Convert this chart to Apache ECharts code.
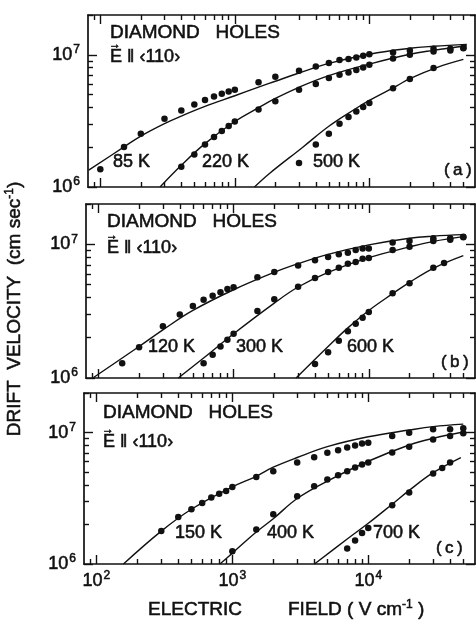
<!DOCTYPE html>
<html>
<head>
<meta charset="utf-8">
<script src="https://cdn.jsdelivr.net/npm/echarts@6/dist/echarts.min.js"></script>
<style>html,body{margin:0;padding:0;background:#fff}#chart{width:476px;height:621px}</style>
</head>
<body>
<div id="chart"></div>
<script>
// ---------- DATA (field in V/cm, drift velocity in cm/s) ----------
// Panel (a)
const E85  = [100,150,200,300,400,500,600,700,800,900,1000,1500,2000,3000,4000,5000,6000,7000,8000,9000,10000,15000,20000,30000,40000,50000];
const V85  = [1.36e6,2.01e6,2.53e6,3.28e6,3.79e6,4.21e6,4.56e6,4.83e6,5.07e6,5.27e6,5.43e6,6.19e6,6.83e6,7.58e6,8.17e6,8.66e6,9.12e6,9.28e6,9.54e6,9.83e6,1.01e7,1.04e7,1.08e7,1.11e7,1.11e7,1.13e7];
const fitE85 = [82,150,200,300,400,600,1000,1500,2000,3000,5000,10000,20000,30000,53000];
const fitV85 = [1.34e6,2.01e6,2.43e6,3.02e6,3.44e6,4.07e6,4.90e6,5.69e6,6.31e6,7.28e6,8.61e6,1.01e7,1.12e7,1.16e7,1.2e7];
const E220 = [400,500,600,700,800,900,1000,1500,2000,3000,4000,5000,6000,7000,8000,9000,10000,15000,20000,30000,40000,50000];
const V220 = [1.42e6,1.76e6,2.10e6,2.39e6,2.65e6,2.89e6,3.13e6,3.86e6,4.46e6,5.43e6,6.02e6,6.68e6,7.07e6,7.36e6,7.67e6,8.03e6,8.41e6,9.38e6,1.0e7,1.06e7,1.08e7,1.12e7];
const fitE220 = [278,400,600,1000,1500,2000,3000,5000,10000,20000,30000,53000];
const fitV220 = [1e6,1.46e6,2.13e6,3.13e6,3.98e6,4.68e6,5.68e6,6.95e6,8.51e6,1.01e7,1.08e7,1.17e7];
const E500 = [3000,4000,5000,6000,7000,8000,9000,10000,15000,20000,30000];
const V500 = [1.52e6,2.10e6,2.53e6,3.01e6,3.38e6,3.73e6,4.02e6,4.31e6,5.58e6,6.57e6,7.94e6];
const fitE500 = [1400,1800,3200,5000,8000,10000,16000,20000,32000,50000];
const fitV500 = [1e6,1.26e6,2.0e6,2.88e6,3.94e6,4.52e6,5.82e6,6.61e6,8.04e6,9.23e6];
// Panel (b)
const E120 = [150,200,300,400,500,600,700,800,900,1000,1500,2000,3000,4000,5000,6000,7000,8000,9000,10000,15000,20000,30000,40000,50000];
const V120 = [1.29e6,1.70e6,2.44e6,2.99e6,3.46e6,3.85e6,4.12e6,4.37e6,4.62e6,4.77e6,5.67e6,6.19e6,6.95e6,7.58e6,8.04e6,8.43e6,8.63e6,9.04e6,9.30e6,9.30e6,1.03e7,1.06e7,1.11e7,1.11e7,1.14e7];
const fitE120 = [91,200,300,500,1000,2000,3000,5000,10000,20000,30000,50000];
const fitV120 = [1e6,1.72e6,2.29e6,3.2e6,4.57e6,6.17e6,7.16e6,8.41e6,9.89e6,1.11e7,1.15e7,1.18e7];
const E300 = [600,700,800,900,1000,1500,2000,3000,4000,5000,6000,7000,8000,9000,10000,15000,20000,30000,40000,50000];
const V300 = [1.29e6,1.49e6,1.72e6,1.93e6,2.14e6,3.17e6,3.88e6,4.82e6,5.60e6,6.19e6,6.67e6,7.16e6,7.37e6,7.80e6,7.90e6,9.04e6,9.57e6,1.06e7,1.08e7,1.13e7];
const fitE300 = [390,600,1000,2000,3000,5000,10000,20000,30000,50000];
const fitV300 = [1e6,1.41e6,2.14e6,3.63e6,4.79e6,6.17e6,7.94e6,9.55e6,1.05e7,1.14e7];
const E600 = [4000,5000,6000,7000,8000,9000,10000,15000,20000,30000,36000];
const V600 = [1.27e6,1.56e6,1.90e6,2.24e6,2.54e6,2.82e6,3.12e6,4.30e6,5.10e6,6.67e6,7.24e6];
const fitE600 = [2900,5000,7000,10000,15000,20000,30000,50000];
const fitV600 = [1e6,1.72e6,2.37e6,3.2e6,4.27e6,5.19e6,6.61e6,8.22e6];
// Panel (c)
const E150 = [300,400,500,600,700,800,900,1000,1500,2000,3000,4000,5000,6000,7000,8000,9000,10000,15000,20000,30000,40000,50000];
const V150 = [1.78e6,2.28e6,2.61e6,2.91e6,3.20e6,3.43e6,3.59e6,3.86e6,4.60e6,5.08e6,5.93e6,6.50e6,7.01e6,7.35e6,7.71e6,7.98e6,8.27e6,8.36e6,9.40e6,9.96e6,1.06e7,1.06e7,1.08e7];
const fitE150 = [158,300,500,1000,1500,2000,3000,5000,10000,20000,30000,50000];
const fitV150 = [1e6,1.78e6,2.61e6,3.86e6,4.65e6,5.45e6,6.46e6,7.82e6,9.29e6,1.045e7,1.11e7,1.16e7];
const E400 = [1000,1500,2000,3000,4000,5000,6000,7000,8000,9000,10000,15000,20000,30000,40000,50000];
const V400 = [1.25e6,1.83e6,2.39e6,3.27e6,3.90e6,4.39e6,4.74e6,5.08e6,5.42e6,5.71e6,5.93e6,7.06e6,7.80e6,8.87e6,9.40e6,9.86e6];
const fitE400 = [810,1000,1500,2000,3000,5000,10000,20000,30000,50000];
const fitV400 = [1e6,1.21e6,1.75e6,2.21e6,3.15e6,4.27e6,6.05e6,8.04e6,9.04e6,1.01e7];
const E700 = [7000,8000,9000,10000,15000,20000,30000,35000,40000];
const V700 = [1.31e6,1.51e6,1.72e6,1.88e6,2.80e6,3.50e6,4.88e6,5.38e6,5.93e6];
const fitE700 = [4020,7000,10000,15000,20000,30000,48000];
const fitV700 = [1e6,1.55e6,2.04e6,2.85e6,3.63e6,4.95e6,6.46e6];

// Labels and ticks
const tempLabels = [['85 K','220 K','500 K'],['120 K','300 K','600 K'],['150 K','400 K','700 K']];
const panelTags = ['(\u2009a\u2009)','(\u2009b\u2009)','(\u2009c\u2009)'];
const xMajorTicks = [100,1000,10000];
const xMinorTicks = [90,200,300,400,500,600,700,800,900,2000,3000,4000,5000,6000,7000,8000,9000,20000,30000,40000,50000];
const yMajorTicks = [1e6,1e7];
const yMinorTicks = [2e6,3e6,4e6,5e6,6e6,7e6,8e6,9e6,2e7];
const xRange = [81, 61000];
const yRange = [1e6, 2e7];

const panelSeries = [
  [[E85,V85,fitE85,fitV85],[E220,V220,fitE220,fitV220],[E500,V500,fitE500,fitV500]],
  [[E120,V120,fitE120,fitV120],[E300,V300,fitE300,fitV300],[E600,V600,fitE600,fitV600]],
  [[E150,V150,fitE150,fitV150],[E400,V400,fitE400,fitV400],[E700,V700,fitE700,fitV700]]
];

// ---------- LAYOUT ----------
const FONT = "'Liberation Sans', Arial, Helvetica, sans-serif";
const INK = '#111';
const THICK = 0.55;
const layout = [
  {grid:{left:88,top:15,width:387,height:172}, title:[110,33], vec:[110,57], temps:[[113,162],[202,162],[313,162]], tag:[444,170]},
  {grid:{left:86,top:204,width:389,height:174}, title:[107,222], vec:[107,248], temps:[[148,347],[236,347],[347,347]], tag:[441,362]},
  {grid:{left:84,top:393,width:391,height:171}, title:[103,413], vec:[103,442], temps:[[175,533],[267,533],[373,533]], tag:[436,548]}
];

const L = Math.log10;
const pts = (E, V) => E.map((e, i) => [L(e), L(V[i])]);
// axis-label rich styles (ECharts option keys)
const axTok = (size, extra) => Object.assign({fontSize: size, fontFamily: FONT, color: INK,
  textBorderColor: INK, textBorderWidth: THICK}, extra || {});
const supRich = { b: axTok(18), s: axTok(12, {padding: [0, 0, 10, 1]}) };
const powLabel = v => '{b|10}{s|' + Math.round(v) + '}';
// graphic rich styles (raw zrender keys, legacy: false)
const gTok = (size, extra) => Object.assign({fontSize: size, fontFamily: FONT, fill: INK,
  stroke: INK, lineWidth: THICK}, extra || {});

const grids = [], xAxes = [], yAxes = [], series = [], graphics = [];

const gText = (x, y, style, rotation, align) => ({
  type: 'text', x: x, y: y, rotation: rotation || 0, silent: true,
  style: Object.assign({legacy: false, fontFamily: FONT, fill: INK, stroke: INK, lineWidth: THICK,
    align: align || 'left', verticalAlign: 'middle'}, style)
});

layout.forEach((p, i) => {
  grids.push(p.grid);
  const mainX = xAxes.length, mainY = yAxes.length;
  const mk = (pos, major, isX) => {
    const ticks = isX ? (major ? xMajorTicks : xMinorTicks) : (major ? yMajorTicks : yMinorTicks);
    const range = isX ? xRange : yRange;
    const showLabel = major && ((isX && pos === 'bottom' && i === 2) || (!isX && pos === 'left'));
    return {
      type: 'value', gridIndex: i, position: pos,
      min: L(range[0]), max: L(range[1]),
      axisLine: {show: major, onZero: false, lineStyle: {color: INK, width: 1.7}},
      axisTick: {show: true, inside: true, length: major ? 9 : 5, customValues: ticks.map(L), lineStyle: {color: INK, width: 1.4}},
      axisLabel: {show: showLabel, customValues: (isX ? xMajorTicks : yMajorTicks).map(L), formatter: powLabel, rich: supRich, margin: isX ? 6 : 8},
      splitLine: {show: false}
    };
  };
  xAxes.push(mk('bottom', true, true), mk('bottom', false, true), mk('top', true, true), mk('top', false, true));
  yAxes.push(mk('left', true, false), mk('left', false, false), mk('right', true, false), mk('right', false, false));

  panelSeries[i].forEach(([E, V, fE, fV]) => {
    series.push({
      type: 'line', xAxisIndex: mainX, yAxisIndex: mainY, data: pts(fE, fV),
      smooth: 0.4, showSymbol: false, clip: true,
      lineStyle: {color: INK, width: 1.4}, silent: true
    });
    series.push({
      type: 'scatter', xAxisIndex: mainX, yAxisIndex: mainY, data: pts(E, V),
      symbol: 'circle', symbolSize: 6.5, itemStyle: {color: INK, opacity: 1}, silent: true
    });
  });

  graphics.push(gText(p.title[0], p.title[1], {text: 'DIAMOND   HOLES', fontSize: 19}));
  graphics.push(gText(p.vec[0], p.vec[1], {text: 'E ‖ ‹110›', fontSize: 18}));
  graphics.push(gText(p.vec[0] - 1, p.vec[1] - 12, {text: '→', fontSize: 12}));
  p.temps.forEach((t, k) => graphics.push(gText(t[0], t[1], {text: tempLabels[i][k], fontSize: 18})));
  graphics.push(gText(p.tag[0], p.tag[1], {text: panelTags[i], fontSize: 17}));
});

const titleRich = { t: gTok(19), s: gTok(12, {padding: [0, 0, 10, 0]}) };
graphics.push(gText(148, 610, {text: 'ELECTRIC', fontSize: 19}));
graphics.push(gText(288, 610, {text: '{t|FIELD ( V cm}{s|-1}{t| )}', rich: titleRich}));
graphics.push(gText(15, 309, {text: '{t|DRIFT  VELOCITY  (cm sec}{s|-1}{t|)}', rich: titleRich}, Math.PI / 2, 'center'));

const chart = echarts.init(document.getElementById('chart'), null, {renderer: 'canvas'});
chart.setOption({
  animation: false,
  backgroundColor: '#fff',
  grid: grids, xAxis: xAxes, yAxis: yAxes, series: series, graphic: graphics
});
</script>
</body>
</html>
